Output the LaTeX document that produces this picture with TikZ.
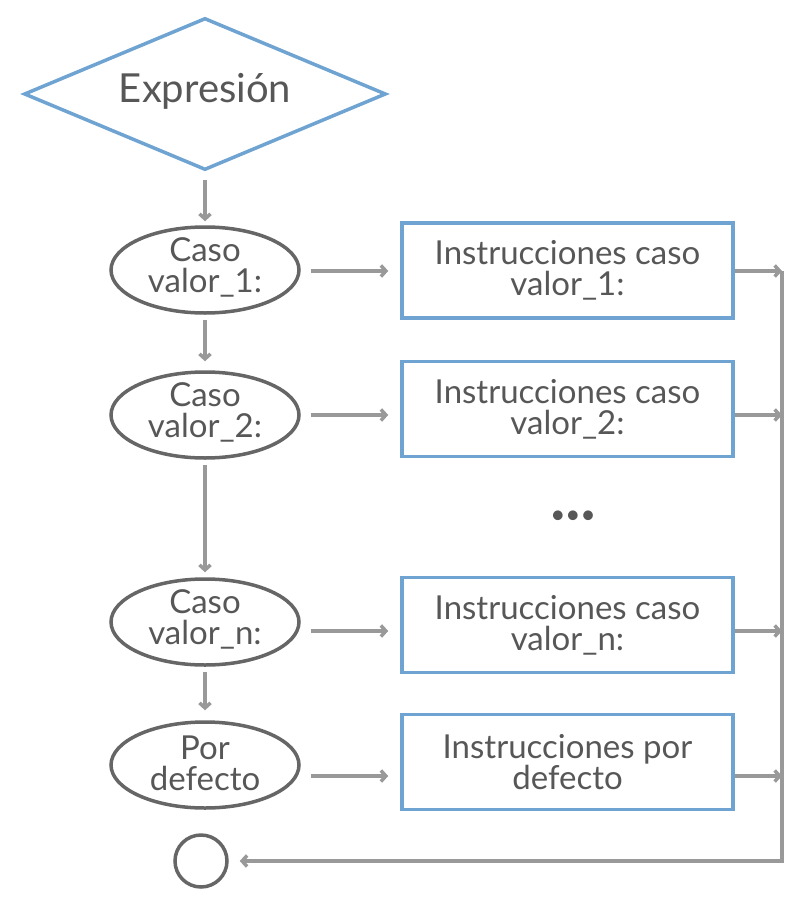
\documentclass[tikz,border=0pt]{standalone}
\usepackage{fontspec}
\setmainfont{Lato}
\usetikzlibrary{shapes.geometric,arrows.meta}
\definecolor{frameblue}{HTML}{6FA4D2}
\definecolor{ellgrey}{HTML}{666666}
\definecolor{txtgrey}{HTML}{575757}
\definecolor{arrgrey}{HTML}{999999}
\begin{document}
\begin{tikzpicture}[x=1pt,y=-1pt,
  txt/.style={text=txtgrey,align=center,font=\fontsize{33}{31}\selectfont,inner sep=0},
  caseell/.style={ellipse,draw=ellgrey,line width=3.5pt,minimum width=188pt,minimum height=86pt,inner sep=0},
  taskbox/.style={rectangle,draw=frameblue,line width=3.5pt,minimum width=331pt,minimum height=95pt,
    text=txtgrey,align=center,font=\fontsize{33}{31}\selectfont,inner sep=0},
  arr/.style={draw=arrgrey,line width=3.5pt,-{Straight Barb[length=5pt,width=11pt]}}]
\useasboundingbox (0,0) rectangle (796,907);

% decision on the expression
\node[diamond,draw=frameblue,line width=3.5pt,minimum width=362pt,minimum height=152pt,inner sep=0] (ex) at (205,94) {};
\node[txt,font=\fontsize{40}{42}\selectfont] (extxt) at (205,91) {Expresión};

% case tests
\node[caseell] (e1) at (205,270) {};
\node[txt] (e1t) at (205,267) {Caso\\valor\_1:};
\node[caseell] (e2) at (205,415) {};
\node[txt] (e2t) at (205,412) {Caso\\valor\_2:};
\node[caseell] (en) at (205,622) {};
\node[txt] (ent) at (205,619) {Caso\\valor\_n:};
\node[caseell] (ed) at (205,765) {};
\node[txt] (edt) at (205,763) {Por\\defecto};
\node[ellipse,draw=ellgrey,line width=3.5pt,minimum width=52pt,minimum height=52pt,inner sep=0] (fin) at (201,861) {};

% instruction blocks
\node[taskbox] (b1) at (567.5,270.5) {Instrucciones caso\\valor\_1:};
\node[taskbox] (b2) at (567.5,409) {Instrucciones caso\\valor\_2:};
\node[taskbox] (bn) at (567.5,625) {Instrucciones caso\\valor\_n:};
\node[taskbox] (bd) at (567.5,762) {Instrucciones por\\defecto};
\node[txt,font=\fontsize{26}{28}\selectfont] (dots) at (573,517) {•••};

% row heights of the horizontal connectors
\coordinate (r1) at (0,271);
\coordinate (r2) at (0,415);
\coordinate (rn) at (0,631);
\coordinate (rd) at (0,776);
\coordinate (join) at (782,861);
\coordinate (jtop) at (782,271);

% downward flow
\draw[arr,shorten <=8pt,shorten >=4pt] (ex.south) -- (e1.north);
\draw[arr,shorten <=5pt,shorten >=9pt] (e1.south) -- (e2.north);
\draw[arr,shorten <=5pt,shorten >=5pt] (e2.south) -- (en.north);
\draw[arr,shorten <=5pt,shorten >=10pt] (en.south) -- (ed.north);

% tests to blocks
\draw[arr,shorten <=10pt,shorten >=12pt] (e1.east |- r1) -- (b1.west |- r1);
\draw[arr,shorten <=10pt,shorten >=12pt] (e2.east |- r2) -- (b2.west |- r2);
\draw[arr,shorten <=10pt,shorten >=12pt] (en.east |- rn) -- (bn.west |- rn);
\draw[arr,shorten <=10pt,shorten >=12pt] (ed.east |- rd) -- (bd.west |- rd);

% blocks to the common exit
\draw[arr] (b1.east |- r1) -- (jtop);
\draw[arr] (b2.east |- r2) -- (join |- r2);
\draw[arr] (bn.east |- rn) -- (join |- rn);
\draw[arr] (bd.east |- rd) -- (join |- rd);
\draw[arr,shorten >=11pt] (jtop) -- (join) -- (fin.east);
\end{tikzpicture}
\end{document}
